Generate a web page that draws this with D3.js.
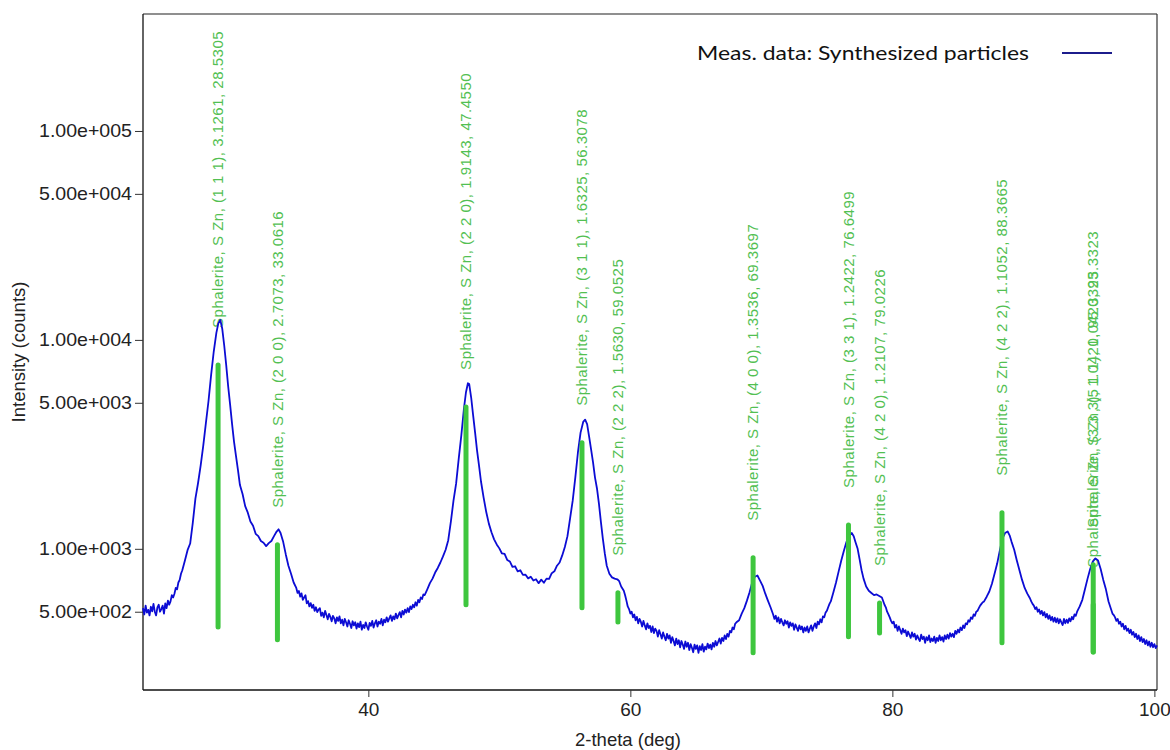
<!DOCTYPE html>
<html>
<head>
<meta charset="utf-8">
<script src="https://cdn.jsdelivr.net/npm/d3@7"></script>
<style>
  html, body { margin: 0; padding: 0; background: #fff; }
  svg { display: block; }
</style>
</head>
<body>
<svg id="chart" width="1170" height="750"></svg>
<script>
// ---------------- DATA ----------------
const xTicks = [40, 60, 80, 100];
const yTicks = [500, 1000, 5000, 10000, 50000, 100000];
const xTitle = "2-theta (deg)";
const yTitle = "Intensity (counts)";
const legendLabel = "Meas. data: Synthesized particles";

// measured pattern: [2-theta (deg), intensity (counts)]
const measured = [
[22.80,520],[22.90,485],[23.00,535],[23.10,495],[23.20,510],[23.30,480],[23.40,528],[23.50,502],[23.60,545],[23.70,500],[23.80,480],[23.90,525],[24.00,540],[24.10,500],[24.20,515],[24.30,535],[24.40,490],[24.50,548],[24.60,520],[24.70,565],[24.80,540],[24.90,560],[25.00,600],[25.10,585],[25.20,610],[25.30,650],[25.40,640],[25.50,690],[25.60,710],[25.70,760],[25.80,790],
[26.00,880],[26.20,985],[26.40,1060],[26.60,1330],[26.80,1740],[27.00,2060],[27.20,2500],[27.40,3120],[27.60,4000],[27.80,5100],[28.00,6800],[28.20,8800],[28.40,10800],[28.55,12000],[28.70,12460],[28.85,11300],[29.00,9400],[29.15,7600],[29.30,6000],[29.45,4900],[29.60,3950],[29.75,3250],[29.90,2780],[30.05,2380],[30.20,2020],[30.40,1830],[30.60,1600],[30.80,1490],[31.00,1350],[31.20,1290],[31.40,1180],[31.60,1150],[31.80,1090],[32.00,1070],[32.20,1030],[32.40,1065],[32.60,1090],[32.80,1150],[33.00,1210],[33.15,1240],[33.30,1190],[33.50,1080],[33.70,940],[33.90,830],[34.10,760],[34.30,690],
[34.50,650],[34.60,615],[34.70,628],[34.80,590],[34.90,612],[35.00,570],[35.10,585],[35.20,600],[35.30,548],[35.40,562],[35.50,530],[35.60,550],[35.70,522],[35.80,540],[35.90,505],[36.00,525],[36.10,498],[36.20,512],[36.30,520],[36.40,478],[36.50,495],[36.60,470],[36.70,505],[36.80,482],[36.90,460],[37.00,488],[37.10,472],[37.20,450],[37.30,478],[37.40,465],[37.50,440],[37.60,470],[37.70,452],[37.80,475],[37.90,440],[38.00,458],[38.10,430],[38.20,462],[38.30,445],[38.40,425],[38.50,455],[38.60,438],[38.70,418],[38.80,450],[38.90,430],[39.00,445],[39.10,415],[39.20,440],[39.30,422],[39.40,448],[39.50,410],[39.60,432],[39.70,418],[39.80,445],[39.90,425],[40.00,410],[40.10,442],[40.20,428],[40.30,452],[40.40,420],[40.50,440],[40.60,455],[40.70,425],[40.80,448],[40.90,438],[41.00,462],[41.10,430],[41.20,458],[41.30,445],[41.40,470],[41.50,448],[41.60,465],[41.70,480],[41.80,452],[41.90,475],[42.00,460],[42.10,490],[42.20,465],[42.30,482],[42.40,498],[42.50,470],[42.60,505],[42.70,485],[42.80,512],[42.90,495],[43.00,520],[43.10,498],[43.20,530],[43.30,515],[43.40,540],[43.50,525],[43.60,555],[43.70,535],[43.80,570],[43.90,555],[44.00,585],[44.10,575],[44.20,605],[44.30,600],
[44.50,640],[44.70,685],[44.90,720],[45.10,770],[45.30,810],[45.50,860],[45.70,920],[45.90,990],[46.10,1100],[46.30,1350],[46.50,1700],[46.70,2050],[46.90,2700],[47.10,3500],[47.30,4700],[47.45,5600],[47.60,6200],[47.70,6150],[47.85,5300],[48.00,4350],[48.15,3600],[48.30,2950],[48.45,2500],[48.60,2100],[48.80,1760],[49.00,1500],[49.20,1320],
[49.40,1200],[49.60,1110],[49.80,1050],[50.00,1005],[50.20,950],[50.40,945],[50.60,885],[50.80,870],[51.00,820],[51.20,825],[51.40,780],[51.60,790],[51.80,750],[52.00,752],[52.20,722],[52.40,735],[52.60,705],[52.80,715],[53.00,685],[53.20,712],[53.40,688],[53.60,720],[53.80,718],[54.00,765],[54.20,780],[54.40,830],
[54.60,860],[54.80,930],[55.00,1020],[55.20,1150],[55.40,1400],[55.60,1700],[55.80,2200],[56.00,2900],[56.20,3600],[56.40,4050],[56.55,4150],[56.70,3950],[56.85,3450],[57.00,3000],[57.15,2600],[57.30,2200],[57.45,1950],[57.60,1650],[57.75,1350],[57.90,1120],[58.05,950],[58.20,830],[58.40,760],[58.60,730],[58.80,720],[59.00,715],[59.15,700],[59.30,660],
[59.50,630],[59.60,600],[59.70,565],[59.80,530],[59.90,515],[60.00,490],[60.10,500],[60.20,470],[60.30,485],[60.40,455],[60.50,472],[60.60,440],[60.70,462],[60.80,448],[60.90,425],[61.00,452],[61.10,430],[61.20,412],[61.30,440],[61.40,418],[61.50,428],[61.60,400],[61.70,425],[61.80,395],[61.90,415],[62.00,405],[62.10,380],[62.20,408],[62.30,390],[62.40,372],[62.50,398],[62.60,380],[62.70,365],[62.80,392],[62.90,372],[63.00,385],[63.10,355],[63.20,378],[63.30,362],[63.40,345],[63.50,372],[63.60,350],[63.70,365],[63.80,338],[63.90,362],[64.00,348],[64.10,332],[64.20,360],[64.30,340],[64.40,355],[64.50,328],[64.60,350],[64.70,336],[64.80,320],[64.90,348],[65.00,332],[65.10,345],[65.20,318],[65.30,342],[65.40,328],[65.50,350],[65.60,322],[65.70,340],[65.80,330],[65.90,352],[66.00,335],[66.10,348],[66.20,330],[66.30,355],[66.40,340],[66.50,362],[66.60,345],[66.70,358],[66.80,372],[66.90,352],[67.00,375],[67.10,362],[67.20,385],[67.30,370],[67.40,392],[67.50,380],[67.60,405],[67.70,398],[67.80,420],[67.90,412],[68.00,438],[68.10,445],
[68.30,455],[68.50,490],[68.70,520],[68.90,565],[69.10,620],[69.30,690],[69.50,735],[69.70,745],[69.90,705],[70.10,665],[70.30,610],[70.50,565],[70.70,525],
[70.90,485],[71.00,462],[71.10,478],[71.20,448],[71.30,470],[71.40,440],[71.50,462],[71.60,445],[71.70,430],[71.80,455],[71.90,438],[72.00,450],[72.10,420],[72.20,445],[72.30,428],[72.40,440],[72.50,410],[72.60,435],[72.70,420],[72.80,405],[72.90,430],[73.00,412],[73.10,425],[73.20,398],[73.30,420],[73.40,405],[73.50,425],[73.60,398],[73.70,415],[73.80,430],[73.90,405],[74.00,425],[74.10,440],[74.20,418],[74.30,448],[74.40,435],[74.50,460],[74.60,445],[74.70,475],[74.80,470],[74.90,495],[75.00,505],[75.10,525],[75.20,545],
[75.30,560],[75.50,620],[75.70,690],[75.90,780],[76.10,880],[76.30,980],[76.50,1080],[76.70,1150],[76.90,1190],[77.05,1150],[77.20,1070],[77.35,1000],[77.50,890],[77.65,790],[77.80,720],[78.00,660],[78.20,630],[78.40,615],[78.60,600],[78.80,605],[79.00,595],[79.20,585],[79.40,540],
[79.50,525],[79.60,500],[79.70,485],[79.80,470],[79.90,452],[80.00,440],[80.10,448],[80.20,420],[80.30,432],[80.40,405],[80.50,425],[80.60,408],[80.70,392],[80.80,415],[80.90,398],[81.00,408],[81.10,382],[81.20,402],[81.30,388],[81.40,375],[81.50,398],[81.60,380],[81.70,392],[81.80,368],[81.90,385],[82.00,372],[82.10,362],[82.20,388],[82.30,370],[82.40,380],[82.50,355],[82.60,378],[82.70,365],[82.80,385],[82.90,358],[83.00,372],[83.10,362],[83.20,380],[83.30,355],[83.40,375],[83.50,362],[83.60,385],[83.70,365],[83.80,378],[83.90,360],[84.00,385],[84.10,370],[84.20,388],[84.30,372],[84.40,395],[84.50,380],[84.60,392],[84.70,378],[84.80,405],[84.90,392],[85.00,410],[85.10,398],[85.20,420],[85.30,408],[85.40,430],[85.50,418],[85.60,440],[85.70,435],[85.80,455],[85.90,448],[86.00,470],[86.10,462],[86.20,485],[86.30,478],[86.40,500],[86.50,505],[86.60,520],[86.70,535],[86.80,545],[86.90,555],
[87.00,560],[87.20,590],[87.40,625],[87.60,680],[87.80,760],[88.00,850],[88.20,980],[88.40,1120],[88.60,1190],[88.80,1210],[88.95,1160],[89.10,1080],[89.30,990],[89.50,880],[89.70,790],[89.90,710],[90.10,650],[90.30,610],
[90.50,580],[90.60,560],[90.70,545],[90.80,535],[90.90,515],[91.00,525],[91.10,500],[91.20,512],[91.30,488],[91.40,505],[91.50,480],[91.60,498],[91.70,470],[91.80,488],[91.90,462],[92.00,480],[92.10,455],[92.20,472],[92.30,448],[92.40,468],[92.50,445],[92.60,465],[92.70,440],[92.80,460],[92.90,445],[93.00,432],[93.10,462],[93.20,440],[93.30,458],[93.40,442],[93.50,465],[93.60,450],[93.70,472],[93.80,460],[93.90,485],[94.00,478],[94.10,500],
[94.30,530],[94.50,570],[94.70,640],[94.90,720],[95.10,800],[95.30,870],[95.50,900],[95.70,880],[95.90,800],[96.10,710],[96.30,640],[96.50,560],
[96.70,512],[96.80,490],[96.90,482],[97.00,470],[97.10,452],[97.20,462],[97.30,438],[97.40,448],[97.50,425],[97.60,438],[97.70,412],[97.80,428],[97.90,405],[98.00,415],[98.10,395],[98.20,410],[98.30,388],[98.40,400],[98.50,378],[98.60,392],[98.70,370],[98.80,385],[98.90,362],[99.00,378],[99.10,358],[99.20,370],[99.30,350],[99.40,365],[99.50,345],[99.60,360],[99.70,340],[99.80,355],[99.90,338],[100.00,350],[100.10,335],[100.20,345]
];

// reference sticks (Sphalerite, S Zn)
const stickAngles = [28.5305, 33.0616, 47.4550, 56.3078, 59.0525, 69.3697, 76.6499, 79.0226, 88.3665, 95.3323, 95.3323];
const stickTop    = [7590, 1045, 4780, 3215, 616, 906, 1302, 551, 1487, 540, 838];
const stickBottom = [423, 367, 540, 522, 447, 318, 379, 396, 355, 321, 321];
const stickLabels = [
  "Sphalerite, S Zn, (1 1 1), 3.1261, 28.5305",
  "Sphalerite, S Zn, (2 0 0), 2.7073, 33.0616",
  "Sphalerite, S Zn, (2 2 0), 1.9143, 47.4550",
  "Sphalerite, S Zn, (3 1 1), 1.6325, 56.3078",
  "Sphalerite, S Zn, (2 2 2), 1.5630, 59.0525",
  "Sphalerite, S Zn, (4 0 0), 1.3536, 69.3697",
  "Sphalerite, S Zn, (3 3 1), 1.2422, 76.6499",
  "Sphalerite, S Zn, (4 2 0), 1.2107, 79.0226",
  "Sphalerite, S Zn, (4 2 2), 1.1052, 88.3665",
  "Sphalerite, S Zn, (3 3 3), 1.0420, 95.3323",
  "Sphalerite, S Zn, (5 1 1), 1.0420, 95.3323"
];

// ---------------- CHART ----------------
const svg = d3.select("#chart");
const L = 143, R = 1157, T = 14, B = 690;
const FONT = "Liberation Sans, Arial, sans-serif";

const x = d3.scaleLinear().domain([22.8, 100.2]).range([L, R]);
const y = d3.scaleLog().domain([211, 363000]).range([B, T]);

svg.append("rect").attr("width", 1170).attr("height", 750).attr("fill", "#fff");

function sciFmt(v) {
  const e = Math.floor(Math.log10(v) + 1e-9);
  const m = v / Math.pow(10, e);
  return m.toFixed(2) + "e+" + String(e).padStart(3, "0");
}

// frame (top/right)
svg.append("line").attr("x1", L).attr("x2", R).attr("y1", T).attr("y2", T)
  .attr("stroke", "#6a6a6a").attr("stroke-width", 1.5);
svg.append("line").attr("x1", R).attr("x2", R).attr("y1", T).attr("y2", B)
  .attr("stroke", "#333").attr("stroke-width", 1.2);

// axes
const xAxis = d3.axisBottom(x).tickValues(xTicks).tickSize(7).tickPadding(6).tickFormat(d3.format("d"));
const gx = svg.append("g").attr("transform", `translate(0,${B})`).call(xAxis);
gx.select(".domain").attr("stroke", "#111").attr("stroke-width", 1.3).attr("d", `M${L},0H${R}`);
gx.selectAll(".tick line").attr("stroke", "#333");
gx.selectAll("text").attr("font-family", FONT).attr("font-size", 19).attr("fill", "#222");

const yAxis = d3.axisLeft(y).tickValues(yTicks).tickSize(8).tickPadding(3).tickFormat(sciFmt);
const gy = svg.append("g").attr("transform", `translate(${L},0)`).call(yAxis);
gy.select(".domain").attr("stroke", "#111").attr("stroke-width", 1.3).attr("d", `M0,${T}V${B}`);
gy.selectAll(".tick line").attr("stroke", "#333");
gy.selectAll("text").attr("font-family", FONT).attr("font-size", 18.5).attr("fill", "#222")
  .attr("textLength", 93).attr("lengthAdjust", "spacingAndGlyphs");

// axis titles
svg.append("text").attr("x", 628).attr("y", 746).attr("text-anchor", "middle")
  .attr("font-family", FONT).attr("font-size", 18.5).attr("fill", "#222")
  .text(xTitle);
svg.append("text").attr("transform", "translate(25,352) rotate(-90)").attr("text-anchor", "middle")
  .attr("font-family", FONT).attr("font-size", 18.5).attr("fill", "#222")
  .text(yTitle);

// stick labels
const sticks = stickAngles.map((a, i) => ({a, top: stickTop[i], bot: stickBottom[i], label: stickLabels[i]}));
svg.append("g").selectAll("text").data(sticks).join("text")
  .attr("transform", d => `translate(${x(d.a)},${y(d.top) - 37}) rotate(-90)`)
  .attr("dy", "0.35em")
  .attr("font-family", FONT)
  .attr("font-size", 15)
  .attr("letter-spacing", 0.5)
  .attr("fill", "#52c052")
  .text(d => d.label);

// measured curve
const line = d3.line().x(d => x(d[0])).y(d => y(d[1]));
svg.append("path").datum(measured).attr("d", line)
  .attr("fill", "none").attr("stroke", "#0c0cd4").attr("stroke-width", 1.8)
  .attr("stroke-linejoin", "round");

// sticks
svg.append("g").selectAll("line").data(sticks).join("line")
  .attr("x1", d => x(d.a)).attr("x2", d => x(d.a))
  .attr("y1", d => y(d.top)).attr("y2", d => y(d.bot))
  .attr("stroke", "#3ec63e").attr("stroke-width", 5).attr("stroke-linecap", "round");

// legend
svg.append("text").attr("x", 697).attr("y", 60)
  .attr("font-family", "Lato, Open Sans, sans-serif").attr("font-size", 20).attr("fill", "#111")
  .attr("textLength", 332).attr("lengthAdjust", "spacingAndGlyphs")
  .text(legendLabel);
svg.append("line").attr("x1", 1062).attr("x2", 1112).attr("y1", 53).attr("y2", 53)
  .attr("stroke", "#1c1c8c").attr("stroke-width", 2);
</script>
</body>
</html>
